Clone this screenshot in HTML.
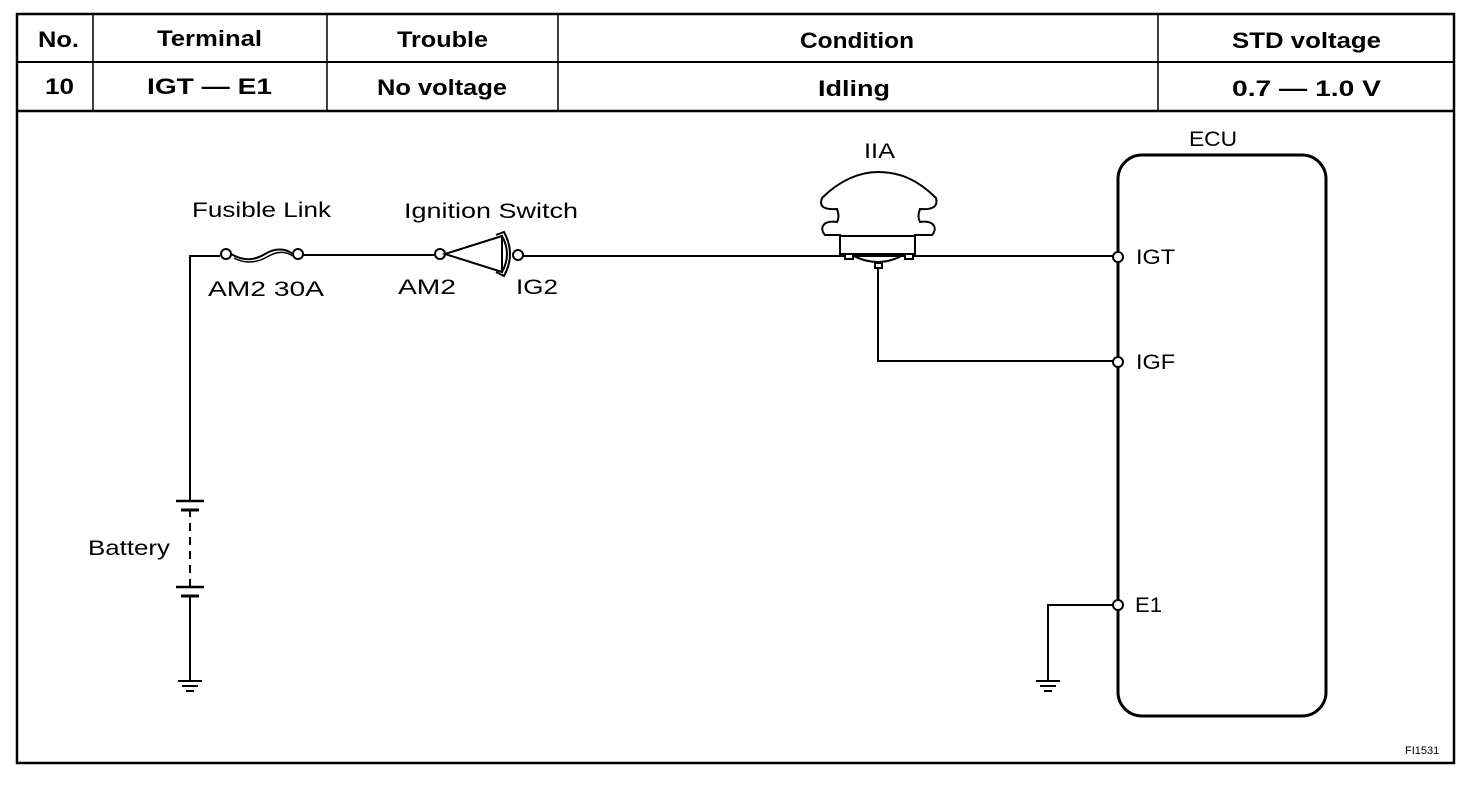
<!DOCTYPE html>
<html><head><style>
body{margin:0;background:#fff;}
svg{display:block;font-family:"Liberation Sans",Arial,sans-serif;}
</style></head><body>
<svg width="1472" height="790" viewBox="0 0 1472 790">
<g stroke="#000" fill="none">
<rect x="17" y="14" width="1437" height="749" stroke-width="2.5"/>
<line x1="17" y1="62" x2="1454" y2="62" stroke-width="2"/>
<line x1="17" y1="111" x2="1454" y2="111" stroke-width="2.5"/>
<line x1="93" y1="14" x2="93" y2="111" stroke-width="1.5"/>
<line x1="327" y1="14" x2="327" y2="111" stroke-width="1.5"/>
<line x1="558" y1="14" x2="558" y2="111" stroke-width="1.5"/>
<line x1="1158" y1="14" x2="1158" y2="111" stroke-width="1.5"/>
</g>
<g font-size="22" font-weight="bold">
<text x="38" y="47" textLength="41" lengthAdjust="spacingAndGlyphs">No.</text>
<text x="157" y="46" textLength="105" lengthAdjust="spacingAndGlyphs">Terminal</text>
<text x="397" y="47" textLength="91" lengthAdjust="spacingAndGlyphs">Trouble</text>
<text x="800" y="48" textLength="114" lengthAdjust="spacingAndGlyphs">Condition</text>
<text x="1232" y="48" textLength="149" lengthAdjust="spacingAndGlyphs">STD voltage</text>
<text x="45" y="94" textLength="29" lengthAdjust="spacingAndGlyphs">10</text>
<text x="147" y="94" textLength="125" lengthAdjust="spacingAndGlyphs">IGT — E1</text>
<text x="377" y="95" textLength="130" lengthAdjust="spacingAndGlyphs">No voltage</text>
<text x="818" y="96" textLength="72" lengthAdjust="spacingAndGlyphs">Idling</text>
<text x="1232" y="96" textLength="149" lengthAdjust="spacingAndGlyphs">0.7 — 1.0 V</text>
</g>
<g stroke="#000" fill="none" stroke-width="2">
<polyline points="190,680 190,597"/>
<line x1="190" y1="587" x2="190" y2="511" stroke-dasharray="8,6"/>
<polyline points="190,501 190,256 220,256"/>
<line x1="176" y1="501" x2="204" y2="501" stroke-width="2.5"/>
<line x1="181" y1="510" x2="199" y2="510" stroke-width="3"/>
<line x1="176" y1="587" x2="204" y2="587" stroke-width="2.5"/>
<line x1="181" y1="596" x2="199" y2="596" stroke-width="3"/>
<line x1="178" y1="681" x2="202" y2="681"/>
<line x1="182" y1="686" x2="198" y2="686"/>
<line x1="186" y1="691" x2="194" y2="691"/>
<circle cx="226" cy="254" r="5" fill="#fff"/>
<circle cx="298" cy="254" r="5" fill="#fff"/>
<path d="M231,254 C245,262 255,260 265,254 C275,248 285,248 293,254" stroke-width="2"/>
<path d="M234,258 C247,265 258,262 267,257 C277,251 285,251 293,256" stroke-width="1.5"/>
<line x1="303" y1="255" x2="435" y2="255"/>
<circle cx="440" cy="254" r="5" fill="#fff"/>
<path d="M445,254 L502,236 L502,272 Z" fill="#fff" stroke-width="2"/>
<path d="M502,236 Q512,254 502,272" />
<path d="M496,235 L504,232 Q516,254 504,276 L496,272"/>
<circle cx="518" cy="255" r="5" fill="#fff"/>
<line x1="523" y1="256" x2="1113" y2="256"/>
<path d="M822,198 C840,180 860,172 878,172 C900,172 918,180 936,198 C938,206 934,210 920,209 C918,215 918,218 920,222 C934,220 938,228 932,235 L915,235 L915,240 L840,240 L840,235 L825,235 C819,228 823,220 837,222 C839,218 839,215 837,209 C823,210 819,206 822,198 Z" fill="#fff"/>
<path d="M840,236 L840,254 L915,254 L915,236 Z" fill="#fff"/>
<path d="M850,254 Q878,270 905,254"/>
<rect x="845" y="254" width="8" height="5" fill="#fff"/>
<rect x="905" y="254" width="8" height="5" fill="#fff"/>
<rect x="875" y="263" width="7" height="5" fill="#fff"/>
<polyline points="878,268 878,361 1113,361"/>
<rect x="1118" y="155" width="208" height="561" rx="24" stroke-width="3"/>
<circle cx="1118" cy="257" r="5" fill="#fff"/>
<circle cx="1118" cy="362" r="5" fill="#fff"/>
<circle cx="1118" cy="605" r="5" fill="#fff"/>
<polyline points="1113,605 1048,605 1048,680"/>
<line x1="1036" y1="681" x2="1060" y2="681"/>
<line x1="1040" y1="686" x2="1056" y2="686"/>
<line x1="1044" y1="691" x2="1052" y2="691"/>
</g>
<g font-size="21">
<text x="192" y="217" textLength="139" lengthAdjust="spacingAndGlyphs">Fusible Link</text>
<text x="208" y="296" textLength="116" lengthAdjust="spacingAndGlyphs">AM2 30A</text>
<text x="404" y="218" textLength="174" lengthAdjust="spacingAndGlyphs">Ignition Switch</text>
<text x="398" y="294" textLength="58" lengthAdjust="spacingAndGlyphs">AM2</text>
<text x="516" y="294" textLength="42" lengthAdjust="spacingAndGlyphs">IG2</text>
<text x="864" y="158" textLength="31" lengthAdjust="spacingAndGlyphs">IIA</text>
<text x="1189" y="146" textLength="48" lengthAdjust="spacingAndGlyphs">ECU</text>
<text x="1136" y="264" textLength="39" lengthAdjust="spacingAndGlyphs">IGT</text>
<text x="1136" y="369" textLength="39" lengthAdjust="spacingAndGlyphs">IGF</text>
<text x="1135" y="612" textLength="27" lengthAdjust="spacingAndGlyphs">E1</text>
<text x="88" y="555" textLength="82" lengthAdjust="spacingAndGlyphs">Battery</text>
<text x="1405" y="754" font-size="11">FI1531</text>
</g>
</svg>
</body></html>
